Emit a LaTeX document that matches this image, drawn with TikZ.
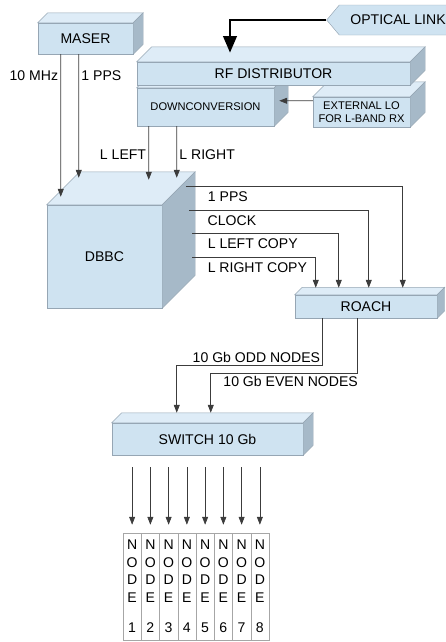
\documentclass[tikz,border=0pt]{standalone}
\usepackage{fontspec}
\setmainfont{Liberation Sans}
\usetikzlibrary{arrows.meta,positioning,calc,shapes.symbols}
\definecolor{frontblue}{RGB}{207,227,241}
\definecolor{topblue}{RGB}{222,236,247}
\definecolor{sideblue}{RGB}{166,185,200}
\definecolor{edgegray}{RGB}{150,166,180}
\definecolor{wiregray}{RGB}{60,60,60}
\tikzset{
  front/.style={draw=edgegray, fill=frontblue, inner sep=0pt,
                font=\fontsize{12}{14}\selectfont},
  small/.style={font=\fontsize{9.5}{11.5}\selectfont, align=center},
  lbl/.style={font=\fontsize{12}{14}\selectfont, inner sep=2pt},
  sig/.style={draw=wiregray, line width=0.6pt,
              -{Triangle[length=0.24cm,width=0.18cm]}},
  optline/.style={draw=black, line width=2.4pt,
                  -{Triangle[length=0.5cm,width=0.4cm]}},
  optic/.style={shape=signal, signal to=west, signal pointer angle=100,
                draw=edgegray, fill=frontblue, minimum width=3.9cm,
                minimum height=0.9cm, inner sep=0pt,
                font=\fontsize{12}{14}\selectfont},
  nodecol/.style={draw=gray!70, fill=white, minimum width=0.5475cm,
                  minimum height=3.21cm, inner sep=0pt, align=center,
                  font=\fontsize{12}{15}\selectfont},
}
% top and side faces of a box drawn behind its front node
\newcommand{\cubefaces}[2]{%
  \draw[edgegray, fill=topblue] (#1.north west) -- ++(#2,-#2)
    -- ($(#1.north east)+(#2,-#2)$) -- (#1.north east) -- cycle;
  \draw[edgegray, fill=sideblue] (#1.north east) -- ++(#2,-#2)
    -- ($(#1.south east)+(#2,-#2)$) -- (#1.south east) -- cycle;
}
\begin{document}
\begin{tikzpicture}[x=0.03cm, y=-0.03cm]
  \useasboundingbox (0,0) rectangle (445,642);

  % boxes
  \node[front, minimum width=2.85cm, minimum height=0.93cm] (maser) at (85.5,38.5) {MASER};
  \cubefaces{maser}{10}
  \node[front, small, minimum width=2.91cm, minimum height=0.9cm] (extlo) at (361.5,112) {EXTERNAL LO\\FOR L-BAND RX};
  \cubefaces{extlo}{15}
  \node[front, small, minimum width=4.11cm, minimum height=1.14cm] (down) at (205.5,107) {DOWNCONVERSION};
  \cubefaces{down}{14}
  \node[front, minimum width=8.19cm, minimum height=0.69cm] (rfd) at (273.5,73.5) {RF DISTRIBUTOR};
  \cubefaces{rfd}{15}
  \node[optic] (optlink) at (398,20) {OPTICAL LINK};
  \node[front, minimum width=3.45cm, minimum height=3.09cm] (dbbc) at (104.5,256.5) {DBBC};
  \cubefaces{dbbc}{33}
  \node[front, minimum width=4.26cm, minimum height=0.69cm] (roach) at (366,306.5) {ROACH};
  \cubefaces{roach}{7.5}
  \node[front, minimum width=5.73cm, minimum height=0.96cm] (switch) at (207.5,439) {SWITCH 10 Gb};
  \cubefaces{switch}{10}

  % links
  \draw[optline] (optlink.west) -| ($(rfd.north)+(-43.5,-9)$);
  \draw[sig] ($(extlo.north west)+(0,4)$) -- ($(down.north east)+(5,13)$);
  \draw[sig] ($(maser.south west)+(23,0)$) -- node[lbl, left, pos=0.147] (lmhz) {10 MHz} ($(dbbc.north west)+(14,-8)$);
  \draw[sig] ($(maser.south west)+(41,0)$) -- node[lbl, right, pos=0.17] (lpps) {1 PPS} ($(dbbc.north west)+(32,-27)$);
  \draw[sig] ($(down.south west)+(12,0)$) -- node[lbl, left, pos=0.53] (lleft) {L LEFT} ($(dbbc.north west)+(102,-25)$);
  \draw[sig] ($(down.south west)+(40,0)$) -- node[lbl, right, pos=0.55] (lright) {L RIGHT} ($(dbbc.north west)+(130,-27)$);

  \draw[sig] ($(dbbc.north east)+(24,-18)$) -| node[lbl, pos=0.044, anchor=west, yshift=-0.3cm] (lpps2) {1 PPS} ($(roach.north west)+(108,-7)$);
  \draw[sig] ($(dbbc.north east)+(27,6)$) -| node[lbl, pos=0.044, anchor=west, yshift=-0.3cm] (lclock) {CLOCK} ($(roach.north west)+(74,-7)$);
  \draw[sig] ($(dbbc.north east)+(30,29)$) -| node[lbl, pos=0.044, anchor=west, yshift=-0.3cm] (llcopy) {L LEFT COPY} ($(roach.north west)+(44,-7)$);
  \draw[sig] ($(dbbc.north east)+(30,53)$) -| node[lbl, pos=0.052, anchor=west, yshift=-0.3cm] (lrcopy) {L RIGHT COPY} ($(roach.north west)+(21,-7)$);

  \draw[sig] ($(roach.south west)+(28,0)$) -- ++(0,47) -| node[lbl, pos=0, above left] (lodd) {10 Gb ODD NODES} ($(switch.north west)+(65,-10)$);
  \draw[sig] ($(roach.south west)+(63,0)$) -- ++(0,55) -| node[lbl, pos=0.466, below right] (leven) {10 Gb EVEN NODES} ($(switch.north west)+(99,-10)$);

  % compute nodes
  \foreach \i in {1,...,8}{
    \node[nodecol] (node\i) at ({123+18.25*(\i-0.5)},586.5) {N\\O\\D\\E\\[11pt]\i};
    \draw[sig] ($(node\i.north |- switch.south)+(0,12)$) -- ($(node\i.north)+(0,-8)$);
  }
\end{tikzpicture}
\end{document}
